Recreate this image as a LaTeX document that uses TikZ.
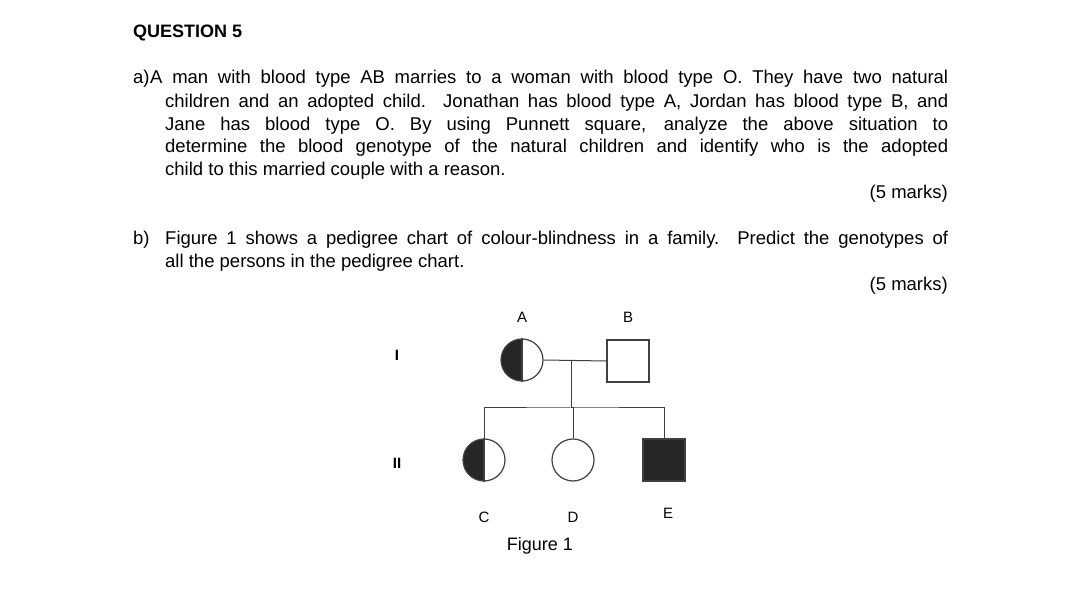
\documentclass[tikz,border=0pt]{standalone}
\usepackage{fontspec}
\setmainfont{Liberation Sans}
\begin{document}
\begin{tikzpicture}[x=1pt,y=-1pt,
  txt/.style={anchor=west,inner sep=0pt,font=\fontsize{18.5}{20}\selectfont},
  lab/.style={inner sep=0pt,font=\fontsize{15}{16}\selectfont},
  sym/.style={draw=black!75,line width=1.2pt}]
\useasboundingbox[fill=white] (0,0) rectangle (1080,612);
\node[txt,font=\fontsize{18}{20}\selectfont\bfseries] (q) at (133,33) {QUESTION 5};
\node[txt] (a) at (133,79) {a)};
\node[txt] (a1) at (150,79) {\makebox[798pt][s]{A man with blood type AB marries to a woman with blood type O. They have two natural}};
\node[txt] (a2) at (165,103) {\makebox[783pt][s]{children and an adopted child. Jonathan has blood type A, Jordan has blood type B, and}};
\node[txt] (a3) at (165,126) {\makebox[783pt][s]{Jane has blood type O. By using Punnett square, analyze the above situation to}};
\node[txt] (a4) at (165,148) {\makebox[783pt][s]{determine the blood genotype of the natural children and identify who is the adopted}};
\node[txt] (a5) at (165,171) {child to this married couple with a reason.};
\node[txt,anchor=east] (m1) at (948,194) {(5 marks)};
\node[txt] (b) at (133,240) {b)};
\node[txt] (b1) at (165,240) {\makebox[783pt][s]{Figure 1 shows a pedigree chart of colour-blindness in a family. Predict the genotypes of}};
\node[txt] (b2) at (165,263) {all the persons in the pedigree chart.};
\node[txt,anchor=east] (m2) at (948,286) {(5 marks)};
% pedigree
\node[lab] (g1) at (397,355) {\bfseries I};
\node[lab] (g2) at (397,463) {\bfseries II};
\node[lab] (lA) at (522,317) {A};
\node[lab] (lB) at (628,317) {B};
\node[lab] (lC) at (484,517) {C};
\node[lab] (lD) at (573,517) {D};
\node[lab] (lE) at (668,513) {E};
\node[lab,font=\fontsize{18}{20}\selectfont] (fig) at (540,546) {Figure 1};
\fill[black!85] (522,339) arc (270:90:21) -- cycle;
\node[sym,circle,minimum size=42pt,inner sep=0pt] (A) at (522,360) {};
\draw[sym] (A.north) -- (A.south);
\node[sym,rectangle,minimum size=42pt,inner sep=0pt] (B) at (628,361) {};
\fill[black!85] (484,439) arc (270:90:21) -- cycle;
\node[sym,circle,minimum size=42pt,inner sep=0pt] (C) at (484,460) {};
\draw[sym] (C.north) -- (C.south);
\node[sym,circle,minimum size=42pt,inner sep=0pt] (D) at (573,460) {};
\node[sym,rectangle,fill=black!85,minimum size=42pt,inner sep=0pt] (E) at (664,460) {};
\coordinate (m) at (571,361);
\coordinate (s) at (571,408);
\draw[sym,line width=1pt] (A.east) -- (B.west);
\draw[sym,line width=1pt] (m) -- (s);
\draw[sym,line width=1pt] (C.north) |- (s) -| (E.north);
\draw[sym,line width=1pt] (s) -| (D.north);
\end{tikzpicture}
\end{document}
